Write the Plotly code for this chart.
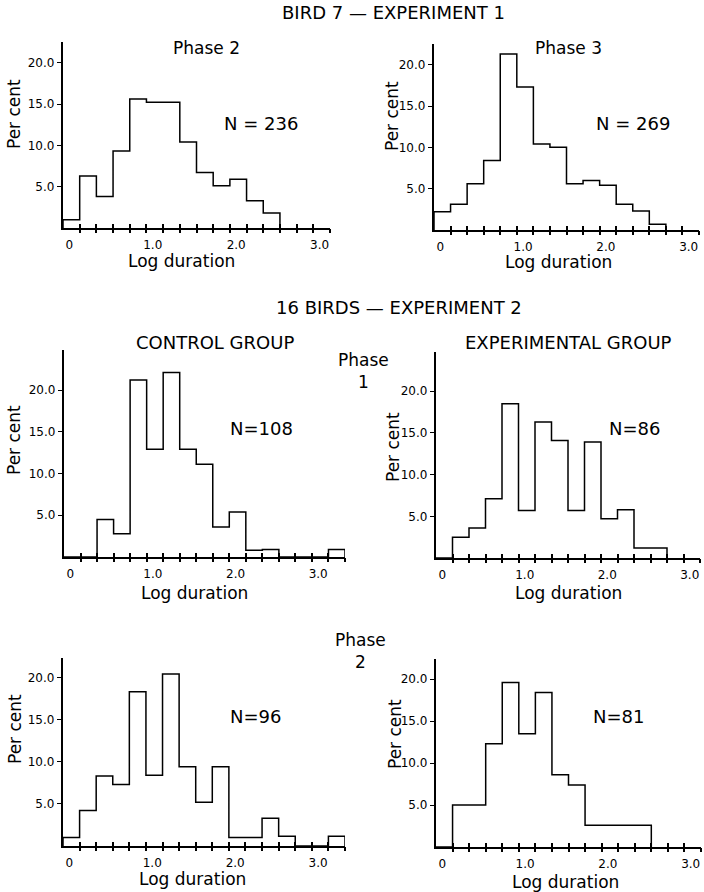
import plotly.graph_objects as go

# ---------------- data (per cent of bouts per log-duration bin, bins 0.2 wide, centred on 0, 0.2, 0.4 ...) ----
BIN_WIDTH = 0.2
bird7_phase2 = [1.0, 6.3, 3.8, 9.3, 15.6, 15.2, 15.2, 10.4, 6.7, 5.1, 5.9, 3.3, 1.8]
bird7_phase3 = [2.2, 3.1, 5.6, 8.4, 21.3, 17.3, 10.4, 10.0, 5.6, 6.0, 5.4, 3.1, 2.3, 0.7]
control_phase1 = [0, 0, 4.5, 2.8, 21.2, 12.9, 22.1, 12.9, 11.1, 3.6, 5.4, 0.8, 0.9, 0, 0, 0, 0.9]
experimental_phase1 = [0, 2.5, 3.6, 7.1, 18.5, 5.7, 16.3, 14.1, 5.7, 13.9, 4.7, 5.8, 1.2, 1.2]
control_phase2 = [1.0, 4.2, 8.3, 7.3, 18.3, 8.4, 20.4, 9.4, 5.2, 9.4, 1.0, 1.0, 3.3, 1.15, 0, 0, 1.15]
experimental_phase2 = [0, 5.0, 5.0, 12.3, 19.6, 13.5, 18.4, 8.6, 7.4, 2.6, 2.6, 2.6, 2.6]

n_labels = ["N = 236", "N = 269", "N=108", "N=86", "N=96", "N=81"]
x_tick_vals = [0, 1, 2, 3]
x_tick_text = ["0", "1.0", "2.0", "3.0"]
y_tick_vals = [5, 10, 15, 20]
y_tick_text = ["5.0", "10.0", "15.0", "20.0"]

series = [bird7_phase2, bird7_phase3, control_phase1,
          experimental_phase1, control_phase2, experimental_phase2]

# ---------------- layout (pixel geometry) ----------------
W, H = 704, 892
FONT = "DejaVu Sans"

# (left px, right px, top px, bottom px, x max, y max)
geom = [
    (63, 330, 42, 228, 3.1, 22.5),
    (434, 699, 44, 230, 3.1, 22.5),
    (64, 345, 350, 557, 3.3, 24.8),
    (436, 700, 352, 558, 3.1, 24.7),
    (63, 345, 658, 846, 3.3, 22.3),
    (436, 701, 659, 847, 3.1, 22.4),
]
n_pos = [(261, 123), (633, 124), (261, 428), (634, 428), (255, 716), (618, 716)]
logdur_pos = [(181, 261), (558, 262), (194, 593), (568, 593), (192, 879), (565, 882)]
percent_pos = [(14, 114), (392, 116), (14, 440), (393, 447), (15, 729), (395, 734)]


def fx(p):
    return p / W


def fy(p):
    return 1 - p / H


fig = go.Figure()
layout = dict(width=W, height=H, margin=dict(l=0, r=0, t=0, b=0),
              paper_bgcolor="white", plot_bgcolor="white", showlegend=False,
              font=dict(family=FONT, color="black"))

annotations = []
n = len(series)
for i, vals in enumerate(series):
    k = i + 1
    left, right, top, bottom, xmax, ymax = geom[i]
    xdom = [fx(left), fx(right)]
    ydom = [fy(bottom), fy(top)]
    xr = [-BIN_WIDTH / 2, xmax]

    centers = [j * BIN_WIDTH for j in range(len(vals))]
    edges = [c - BIN_WIDTH / 2 for c in centers] + [centers[-1] + BIN_WIDTH / 2]
    xs = [edges[0]] + edges[:-1] + [edges[-1], edges[-1]]
    ys = [0] + list(vals) + [vals[-1], 0]

    xa = "x" if k == 1 else f"x{k}"
    ya = "y" if k == 1 else f"y{k}"
    fig.add_trace(go.Scatter(x=xs, y=ys, mode="lines", line_shape="hv",
                             line=dict(color="black", width=1.5),
                             xaxis=xa, yaxis=ya, hoverinfo="skip"))

    odd_ticks = [round(BIN_WIDTH / 2 + j * BIN_WIDTH, 2)
                 for j in range(int(round((xmax - BIN_WIDTH / 2) / BIN_WIDTH)) + 1)]

    # main x axis: labels only
    layout[f"xaxis{'' if k == 1 else k}"] = dict(
        domain=xdom, range=xr, anchor=ya, showgrid=False, zeroline=False,
        showline=True, linecolor="black", linewidth=2.4,
        tickmode="array", tickvals=x_tick_vals, ticktext=x_tick_text,
        ticks="", ticklabelstandoff=4, ticklabelshift=-2,
        tickfont=dict(family=FONT, size=12, color="black"), fixedrange=True)
    # overlay axes: crossing tick marks at bin edges
    for j, direction in enumerate(["outside", "inside"]):
        idx = n + 1 + i * 2 + j
        ov = f"x{idx}"
        layout[f"xaxis{idx}"] = dict(
            domain=xdom, range=xr, anchor=ya, overlaying=xa,
            showgrid=False, zeroline=False, showline=False,
            tickmode="array", tickvals=odd_ticks, ticks=direction,
            ticklen=4, tickwidth=1.6, tickcolor="black",
            showticklabels=False, fixedrange=True)
        fig.add_trace(go.Scatter(x=[xr[0]], y=[0], mode="markers",
                                 marker=dict(size=1, opacity=0),
                                 xaxis=ov, yaxis=ya, hoverinfo="skip"))

    layout[f"yaxis{'' if k == 1 else k}"] = dict(
        domain=ydom, range=[0, ymax], anchor=xa, showgrid=False, zeroline=False,
        showline=True, linecolor="black", linewidth=2.4,
        tickmode="array", tickvals=y_tick_vals, ticktext=y_tick_text,
        ticks="outside", ticklen=4, tickwidth=1.3, tickcolor="black",
        tickfont=dict(family=FONT, size=12, color="black"), fixedrange=True)

    annotations.append(dict(x=fx(n_pos[i][0]), y=fy(n_pos[i][1]), text=n_labels[i],
                            font=dict(size=18)))
    annotations.append(dict(x=fx(logdur_pos[i][0]), y=fy(logdur_pos[i][1]),
                            text="Log duration", font=dict(size=17)))
    annotations.append(dict(x=fx(percent_pos[i][0]), y=fy(percent_pos[i][1]),
                            text="Per cent", textangle=-90, font=dict(size=17)))

titles = [
    ("BIRD 7 — EXPERIMENT 1", 393, 13, 18),
    ("Phase 2", 207, 48, 17),
    ("Phase 3", 568, 48, 17),
    ("16 BIRDS — EXPERIMENT 2", 399, 307, 18),
    ("CONTROL GROUP", 215, 342, 18),
    ("EXPERIMENTAL GROUP", 568, 343, 18),
    ("Phase<br>1", 363, 371, 17),
    ("Phase<br>2", 360, 651, 17),
]
for text, x, y, s in titles:
    annotations.append(dict(x=fx(x), y=fy(y), text=text, font=dict(size=s)))

for a in annotations:
    a.update(xref="paper", yref="paper", showarrow=False,
             xanchor="center", yanchor="middle")
    a["font"] = dict(family=FONT, color="black", **a["font"])

layout["annotations"] = annotations
fig.update_layout(**layout)
fig.write_html("out.html", config={"displayModeBar": False},
               post_script="document.body.style.margin='0px';document.body.style.overflow='hidden';")
